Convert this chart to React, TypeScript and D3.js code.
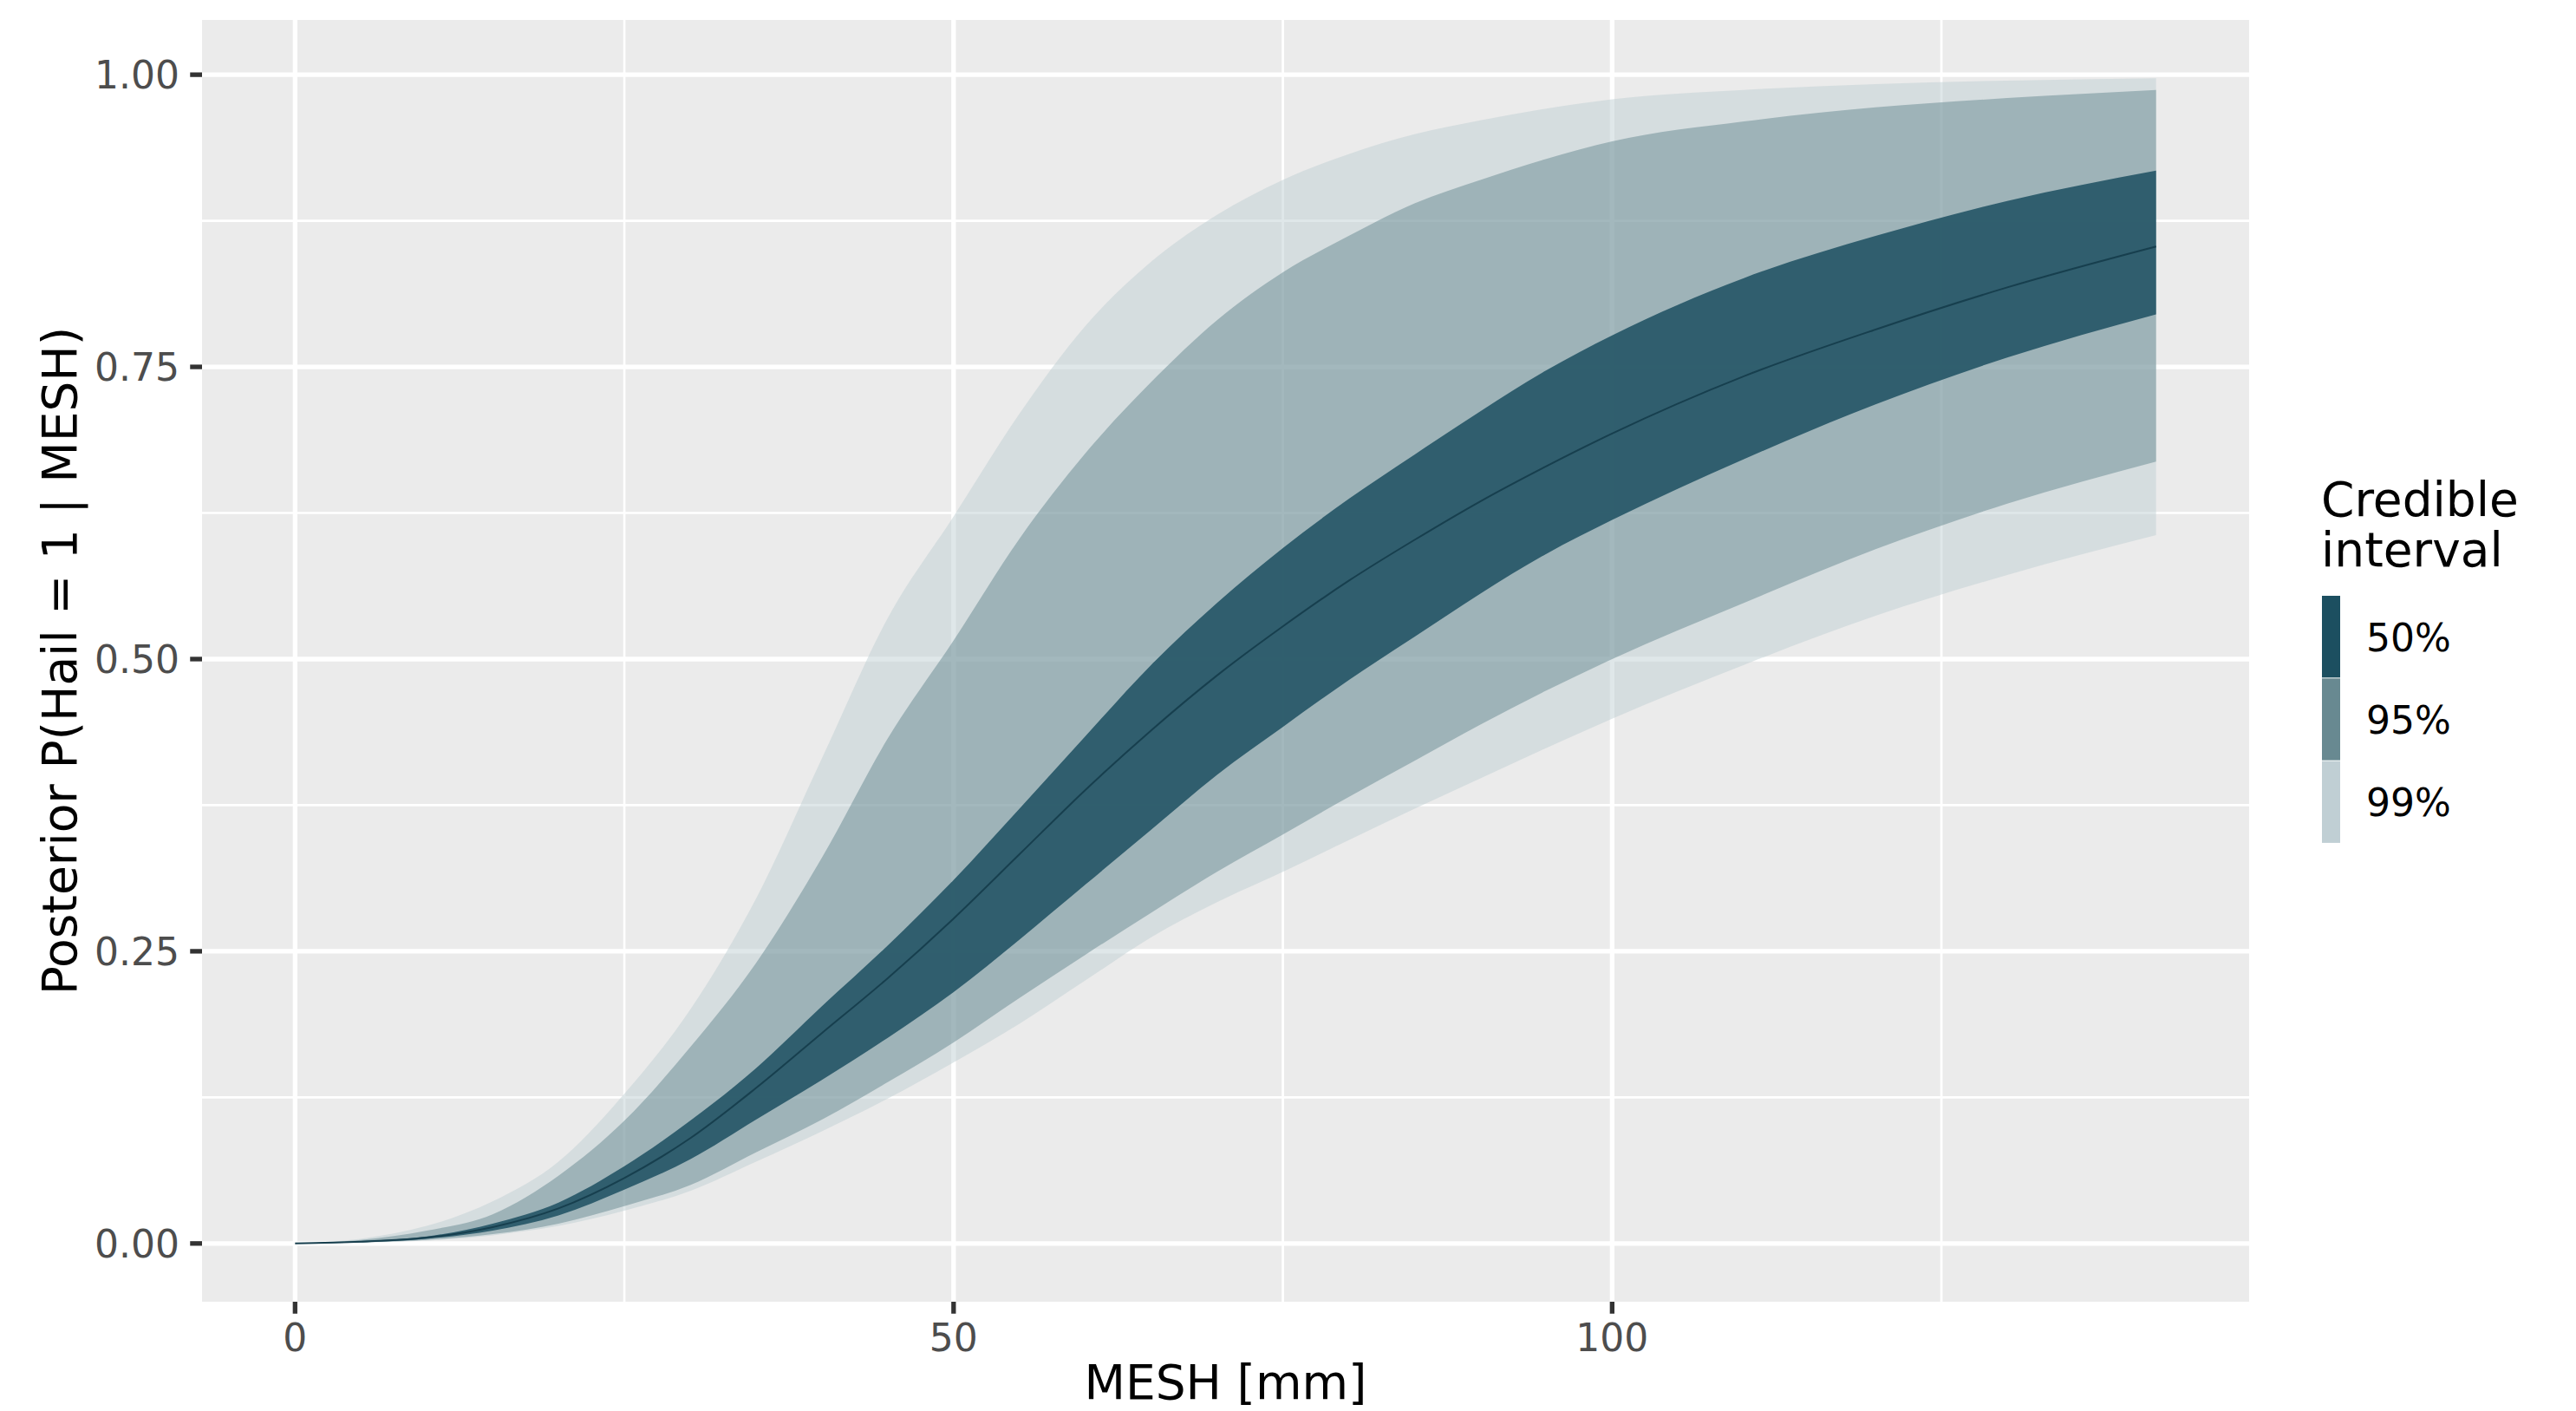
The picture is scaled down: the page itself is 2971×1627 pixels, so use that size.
import React from 'react';
import * as d3 from 'd3';

// MESH [mm] sample points and posterior quantiles
const mesh = [0, 5, 10, 15, 20, 25, 30, 35, 40, 45, 50, 55, 60, 65, 70, 75, 80, 85, 90, 95, 100, 110, 120, 130, 141.3];
const upper99 = [0, 0.004, 0.015, 0.036, 0.07, 0.128, 0.2, 0.295, 0.415, 0.535, 0.622, 0.71, 0.785, 0.84, 0.88, 0.91, 0.932, 0.949, 0.961, 0.971, 0.979, 0.987, 0.992, 0.995, 0.997];
const upper95 = [0, 0.003, 0.011, 0.025, 0.058, 0.105, 0.168, 0.24, 0.33, 0.432, 0.516, 0.603, 0.676, 0.737, 0.79, 0.831, 0.862, 0.89, 0.91, 0.928, 0.943, 0.96, 0.972, 0.98, 0.987];
const upper50 = [0, 0.002, 0.006, 0.017, 0.035, 0.066, 0.105, 0.15, 0.203, 0.255, 0.311, 0.372, 0.434, 0.495, 0.548, 0.595, 0.637, 0.675, 0.712, 0.747, 0.777, 0.826, 0.862, 0.892, 0.918];
const median = [0, 0.0015, 0.005, 0.014, 0.03, 0.056, 0.09, 0.133, 0.18, 0.227, 0.278, 0.333, 0.388, 0.439, 0.486, 0.528, 0.567, 0.602, 0.635, 0.665, 0.693, 0.742, 0.782, 0.818, 0.853];
const lower50 = [0, 0.001, 0.004, 0.011, 0.024, 0.046, 0.072, 0.106, 0.14, 0.176, 0.215, 0.26, 0.307, 0.354, 0.401, 0.442, 0.482, 0.519, 0.556, 0.59, 0.619, 0.671, 0.718, 0.758, 0.795];
const lower95 = [0, 0.001, 0.003, 0.008, 0.017, 0.032, 0.05, 0.078, 0.106, 0.138, 0.172, 0.21, 0.247, 0.283, 0.318, 0.35, 0.382, 0.413, 0.444, 0.473, 0.5, 0.548, 0.594, 0.633, 0.669];
const lower99 = [0, 0.0008, 0.0025, 0.007, 0.015, 0.028, 0.045, 0.07, 0.096, 0.124, 0.155, 0.188, 0.225, 0.262, 0.292, 0.318, 0.345, 0.372, 0.398, 0.424, 0.449, 0.495, 0.537, 0.572, 0.606];

const widths = ['99%', '95%', '50%'];
const legendLabels = ['50%', '95%', '99%'];
const fills = { '50%': '#1C4F60', '95%': '#688991', '99%': '#C0CFD4' };
const alphas = { '50%': 0.85, '95%': 0.5, '99%': 0.5 };

const xMajor = [0, 50, 100];
const xMinor = [25, 75, 125];
const yMajor = [0, 0.25, 0.5, 0.75, 1];
const yMinor = [0.125, 0.375, 0.625, 0.875];

const W = 2971;
const H = 1627;
const panel = { left: 233, right: 2594, top: 23, bottom: 1501 };
const font = '"DejaVu Sans", Verdana, sans-serif';

export default function App() {
  const xMax = d3.max(mesh) ?? 1;
  const yMax = d3.max(upper99) ?? 1;
  const x = d3.scaleLinear()
    .domain([-0.05 * xMax, 1.05 * xMax])
    .range([panel.left, panel.right]);
  const y = d3.scaleLinear()
    .domain([-0.05 * yMax, 1.05 * yMax])
    .range([panel.bottom, panel.top]);

  const bands = {
    '99%': [lower99, upper99],
    '95%': [lower95, upper95],
    '50%': [lower50, upper50],
  };

  const area = (lo, hi) => d3.area()
    .x((_, i) => x(mesh[i]))
    .y0((_, i) => y(lo[i]))
    .y1((_, i) => y(hi[i]))
    .curve(d3.curveMonotoneX)(mesh);

  const medianLine = d3.line()
    .x((_, i) => x(mesh[i]))
    .y((_, i) => y(median[i]))
    .curve(d3.curveMonotoneX)(mesh);

  const keyTop = 687;
  const keyH = 95.3;

  return (
    <svg width={W} height={H} style={{ position: 'absolute', left: 0, top: 0, background: '#fff' }}>
      <rect x={panel.left} y={panel.top} width={panel.right - panel.left} height={panel.bottom - panel.top} fill="#EBEBEB" />
      {xMinor.map((t) => (
        <line key={`xm${t}`} x1={x(t)} x2={x(t)} y1={panel.top} y2={panel.bottom} stroke="#fff" strokeWidth={2.7} />
      ))}
      {yMinor.map((t) => (
        <line key={`ym${t}`} x1={panel.left} x2={panel.right} y1={y(t)} y2={y(t)} stroke="#fff" strokeWidth={2.7} />
      ))}
      {xMajor.map((t) => (
        <line key={`xM${t}`} x1={x(t)} x2={x(t)} y1={panel.top} y2={panel.bottom} stroke="#fff" strokeWidth={5.3} />
      ))}
      {yMajor.map((t) => (
        <line key={`yM${t}`} x1={panel.left} x2={panel.right} y1={y(t)} y2={y(t)} stroke="#fff" strokeWidth={5.3} />
      ))}

      {widths.map((w) => (
        <path key={w} d={area(bands[w][0], bands[w][1])} fill={fills[w]} fillOpacity={alphas[w]} />
      ))}
      <path d={medianLine} fill="none" stroke="#173F4E" strokeWidth={2} />

      {/* x axis */}
      {xMajor.map((t) => (
        <g key={`xt${t}`}>
          <line x1={x(t)} x2={x(t)} y1={panel.bottom} y2={panel.bottom + 13.75} stroke="#333" strokeWidth={5.3} />
          <text x={x(t)} y={panel.bottom + 57} textAnchor="middle" fontFamily={font} fontSize={44} fill="#4D4D4D">
            {t}
          </text>
        </g>
      ))}
      {/* y axis */}
      {yMajor.map((t) => (
        <g key={`yt${t}`}>
          <line x1={panel.left - 13.75} x2={panel.left} y1={y(t)} y2={y(t)} stroke="#333" strokeWidth={5.3} />
          <text x={panel.left - 26} y={y(t) + 16} textAnchor="end" fontFamily={font} fontSize={44} fill="#4D4D4D">
            {d3.format('.2f')(t)}
          </text>
        </g>
      ))}

      <text x={(panel.left + panel.right) / 2} y={1613} textAnchor="middle" fontFamily={font} fontSize={55} fill="#000">
        MESH [mm]
      </text>
      <text
        transform={`translate(88, ${(panel.top + panel.bottom) / 2}) rotate(-90)`}
        textAnchor="middle"
        fontFamily={font}
        fontSize={55}
        fill="#000"
      >
        Posterior P(Hail = 1 | MESH)
      </text>

      {/* legend */}
      <text x={2677} y={595} fontFamily={font} fontSize={55} fill="#000">Credible</text>
      <text x={2677} y={653} fontFamily={font} fontSize={55} fill="#000">interval</text>
      {legendLabels.map((w, i) => (
        <g key={`lg${w}`}>
          <rect x={2678} y={keyTop + i * keyH} width={21} height={keyH - 1} fill={fills[w]} />
          <text x={2729} y={keyTop + i * keyH + keyH / 2 + 16} fontFamily={font} fontSize={44} fill="#000">
            {w}
          </text>
        </g>
      ))}
    </svg>
  );
}
